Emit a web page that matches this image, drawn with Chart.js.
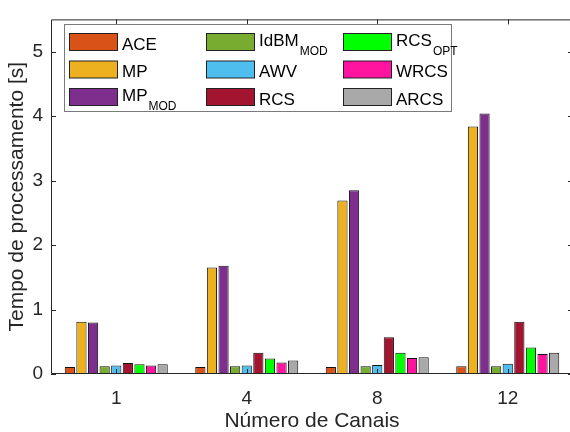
<!DOCTYPE html>
<html>
<head>
<meta charset="utf-8">
<script src="https://cdn.jsdelivr.net/npm/chart.js@4/dist/chart.umd.min.js"></script>
<style>
  html, body { margin: 0; padding: 0; overflow: hidden; background: #fff; width: 570px; height: 432px; }
  canvas { display: block; }
</style>
</head>
<body>
<canvas id="c" width="580" height="432" style="width:580px;height:432px"></canvas>
<script>
// Categories: number of channels
const channels = ['1', '4', '8', '12'];
const yTicks = [0, 1, 2, 3, 4, 5];

// Processing time [s] per method
const ace     = [0.11, 0.11, 0.11, 0.12];
const mp      = [0.81, 1.65, 2.69, 3.84];
const mpMod   = [0.80, 1.68, 2.85, 4.04];
const idbmMod = [0.12, 0.12, 0.12, 0.12];
const awv     = [0.13, 0.13, 0.14, 0.16];
const rcs     = [0.17, 0.33, 0.57, 0.81];
const rcsOpt  = [0.15, 0.24, 0.33, 0.41];
const wrcs    = [0.13, 0.18, 0.25, 0.31];
const arcs    = [0.15, 0.21, 0.26, 0.33];

// Legend names, split into base text and subscript
const seriesNames = ['ACE', 'MP', 'MP', 'IdBM', 'AWV', 'RCS', 'RCS', 'WRCS', 'ARCS'];
const seriesSubs  = ['', '', 'MOD', 'MOD', '', '', 'OPT', '', ''];
const seriesColors = ['#D95319', '#EDB120', '#7E2F8E', '#77AC30', '#4DBEEE', '#A2142F', '#00FF00', '#FF14A0', '#A9A9A9'];
const seriesValues = [ace, mp, mpMod, idbmMod, awv, rcs, rcsOpt, wrcs, arcs];

const AXIS = '#262626';
const FONT = '"Liberation Sans", Arial, sans-serif';

const datasets = seriesValues.map((vals, i) => ({
  label: seriesNames[i] + seriesSubs[i],
  data: vals,
  backgroundColor: seriesColors[i],
  borderColor: '#111',
  borderWidth: 1,
  borderSkipped: false,
  categoryPercentage: 0.8,
  barPercentage: 0.88
}));

// Box axes with inward tick marks, plus a three-column legend with subscripts
const framePlugin = {
  id: 'frame',
  afterDatasetsDraw(chart) {
    const { ctx, chartArea: a, scales: { x, y } } = chart;
    ctx.save();
    ctx.strokeStyle = AXIS;
    ctx.lineWidth = 1;
    ctx.beginPath();
    ctx.moveTo(a.left + 0.5, a.bottom - 0.5);
    ctx.lineTo(a.left + 0.5, a.top + 0.5);
    ctx.lineTo(a.right - 0.5, a.top + 0.5);
    ctx.lineTo(a.right - 0.5, a.bottom - 0.5);
    ctx.lineTo(a.left + 0.5, a.bottom - 0.5);
    const tl = 5;
    x.ticks.forEach((t, i) => {
      const px = Math.round(x.getPixelForTick(i)) + 0.5;
      ctx.moveTo(px, a.bottom); ctx.lineTo(px, a.bottom - tl);
      ctx.moveTo(px, a.top); ctx.lineTo(px, a.top + tl);
    });
    y.ticks.forEach((t, i) => {
      const py = Math.round(y.getPixelForTick(i)) + 0.5;
      ctx.moveTo(a.left, py); ctx.lineTo(a.left + tl, py);
      ctx.moveTo(a.right, py); ctx.lineTo(a.right - tl, py);
    });
    ctx.stroke();
    ctx.restore();
  },
  afterDraw(chart) {
    const ctx = chart.ctx;
    ctx.save();
    // legend box
    const bx = 64.5, by = 24.5, bw = 387, bh = 87;
    ctx.fillStyle = '#fff';
    ctx.fillRect(bx, by, bw, bh);
    ctx.strokeStyle = '#7a7a7a';
    ctx.lineWidth = 1;
    ctx.strokeRect(bx, by, bw, bh);
    chart.data.datasets.forEach((ds, i) => {
      const col = Math.floor(i / 3), row = i % 3;
      const sx = 69.5 + col * 137, sy = 33.5 + row * 27.5;
      ctx.fillStyle = ds.backgroundColor;
      ctx.fillRect(sx, sy, 48, 17);
      ctx.strokeStyle = '#222';
      ctx.strokeRect(sx, sy, 48, 17);
      const tx = sx + 52.5;
      const base = sy + 16;
      ctx.fillStyle = '#000';
      ctx.textBaseline = 'alphabetic';
      ctx.textAlign = 'left';
      ctx.font = '17px ' + FONT;
      const name = seriesNames[i], sub = seriesSubs[i];
      if (sub) {
        ctx.fillText(name, tx, base - 4);
        const w = ctx.measureText(name).width;
        ctx.font = '12px ' + FONT;
        ctx.fillText(sub, tx + w + 1, base + 5);
      } else {
        ctx.fillText(name, tx, base);
      }
    });
    ctx.restore();
  }
};

new Chart(document.getElementById('c'), {
  type: 'bar',
  data: { labels: channels, datasets },
  options: {
    responsive: false,
    animation: false,
    devicePixelRatio: 1,
    layout: { padding: { left: 0, top: 11, right: 7, bottom: 0 } },
    plugins: { legend: { display: false }, tooltip: { enabled: false } },
    scales: {
      x: {
        grid: { display: false, drawTicks: false },
        border: { display: false },
        ticks: { color: AXIS, font: { family: FONT, size: 19 }, padding: 13, maxRotation: 0 },
        title: { display: true, text: 'Número de Canais', color: AXIS, font: { family: FONT, size: 21, lineHeight: 1 }, padding: { top: 0, bottom: 0 } },
        afterFit(scale) { scale.height = 58; }
      },
      y: {
        min: 0,
        max: 5.5,
        grid: { display: false, drawTicks: false },
        border: { display: false },
        afterBuildTicks(scale) { scale.ticks = yTicks.map(v => ({ value: v })); },
        ticks: { color: AXIS, font: { family: FONT, size: 19 }, padding: 8 },
        title: { display: true, text: 'Tempo de processamento [s]', color: AXIS, font: { family: FONT, size: 21 }, padding: { top: 5, bottom: 0 } },
        afterFit(scale) { scale.width = 51; }
      }
    }
  },
  plugins: [framePlugin]
});
</script>
</body>
</html>
